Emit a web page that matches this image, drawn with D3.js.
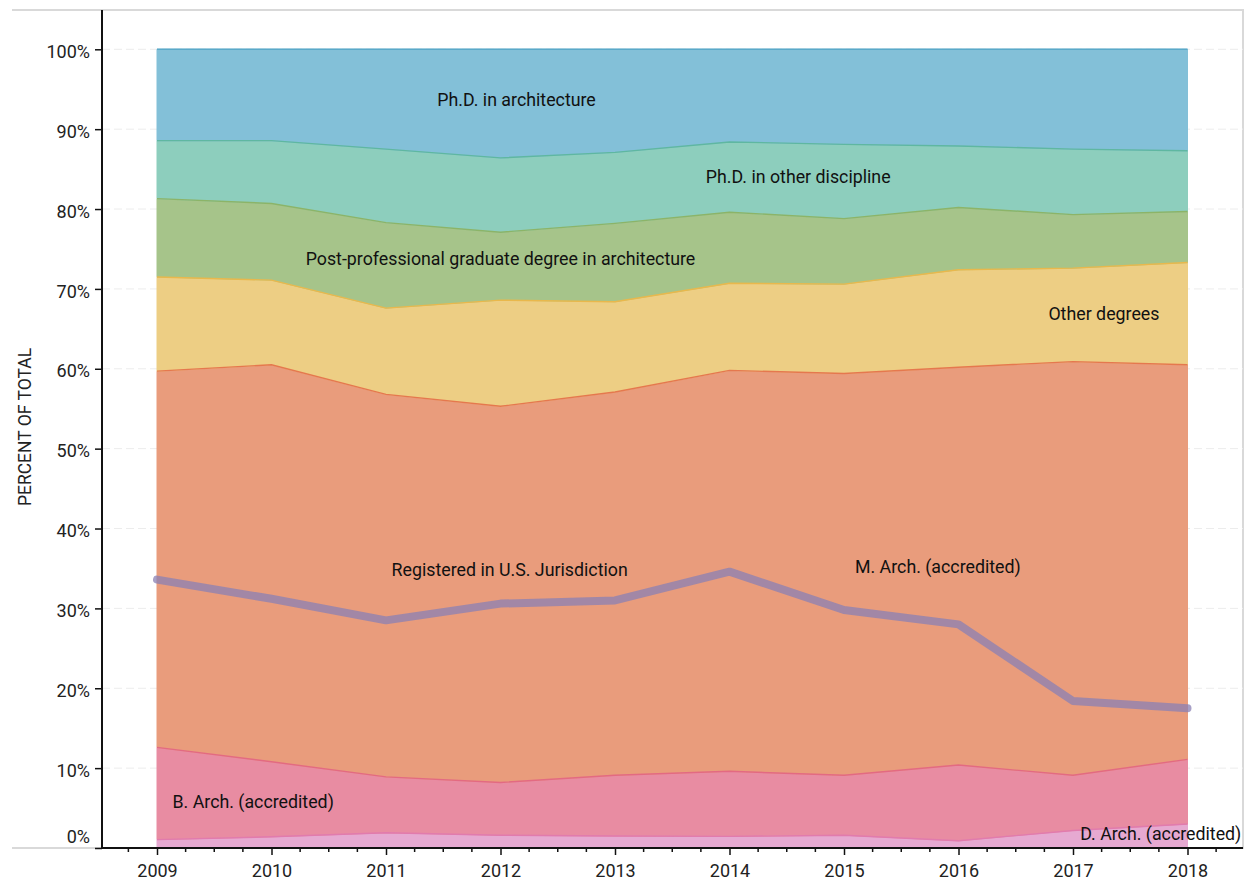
<!DOCTYPE html>
<head>
<meta charset="UTF-8">
<script src="https://d3js.org/d3.v7.min.js"></script>
<style>
  body { margin: 0; background: #fff; }
  text { font-family: Roboto, "Noto Sans", sans-serif; }
</style>
</head>
<body>
<div id="my_dataviz"></div>
<script>

// data, percent of total by year
var years = [2009, 2010, 2011, 2012, 2013, 2014, 2015, 2016, 2017, 2018];
var dArch     = [1.05, 1.4, 1.9, 1.6, 1.5, 1.45, 1.6, 0.9, 2.2, 3.0];
var bArch     = [11.55, 9.4, 7.0, 6.6, 7.6, 8.15, 7.5, 9.5, 6.9, 8.1];
var mArch     = [47.1, 49.7, 47.9, 47.1, 48.0, 50.2, 50.3, 49.8, 51.8, 49.4];
var otherDeg  = [11.8, 10.6, 10.8, 13.3, 11.3, 10.9, 11.2, 12.2, 11.7, 12.8];
var postProf  = [9.8, 9.6, 10.7, 8.5, 9.8, 8.9, 8.2, 7.8, 6.7, 6.4];
var phdOther  = [7.26, 7.86, 9.2, 9.3, 8.9, 8.8, 9.3, 7.7, 8.2, 7.6];
var phdArch   = [11.44, 11.44, 12.5, 13.6, 12.9, 11.6, 11.9, 12.1, 12.5, 12.7];
var registered = [33.6, 31.2, 28.5, 30.6, 31.0, 34.6, 29.8, 28.0, 18.4, 17.5];

var keys = ["dArch", "bArch", "mArch", "otherDeg", "postProf", "phdOther", "phdArch"];
var yTicks = [0, 10, 20, 30, 40, 50, 60, 70, 80, 90, 100];

var fills   = ["#e6a9d1", "#e88ca2", "#e99c7c", "#edce84", "#a6c48a", "#8dcebd", "#83c0d8"];
var strokes = ["#e17bad", "#e36a82", "#e5784e", "#e9b84c", "#8cb468", "#5fb7a1", "#5aa9c9"];

var series = [dArch, bArch, mArch, otherDeg, postProf, phdOther, phdArch];
var table = years.map(function(yr, i) {
  var row = {year: yr};
  keys.forEach(function(k, j) { row[k] = series[j][i]; });
  return row;
});

var W = 1247, H = 882;
var svg = d3.select("#my_dataviz")
  .append("svg")
    .attr("width", W)
    .attr("height", H);

var mLeft = 102, mRight = 1243, mTop = 10, mBottom = 848;

var x = d3.scaleLinear().domain([2009, 2018]).range([157, 1187.5]);
var y = d3.scaleLinear().domain([0, 100]).range([mBottom, 49.3]);

// frame
svg.append("path")
  .attr("d", "M12," + mTop + "H" + mRight + "V" + mBottom + "H12")
  .style("fill", "none")
  .style("stroke", "#d9d9d9")
  .style("stroke-width", 2);

// gridlines
svg.append("g")
  .selectAll("line")
  .data(yTicks.filter(function(d) { return d > 0; }))
  .enter()
  .append("line")
    .attr("x1", mLeft).attr("x2", mRight)
    .attr("y1", function(d) { return y(d); })
    .attr("y2", function(d) { return y(d); })
    .style("stroke", "#ececec")
    .style("stroke-width", 1)
    .style("stroke-dasharray", "8,4");

// stacked areas
var stacked = d3.stack().keys(keys)(table);
var area = d3.area()
  .x(function(d) { return x(d.data.year); })
  .y0(function(d) { return y(d[0]); })
  .y1(function(d) { return y(d[1]); });
var topLine = d3.line()
  .x(function(d) { return x(d.data.year); })
  .y(function(d) { return y(d[1]); });

svg.append("g")
  .selectAll("path")
  .data(stacked)
  .enter()
  .append("path")
    .attr("d", area)
    .style("fill", function(d, i) { return fills[i]; })
    .style("stroke", function(d, i) { return fills[i]; })
    .style("stroke-width", 1);

svg.append("g")
  .selectAll("path")
  .data(stacked)
  .enter()
  .append("path")
    .attr("d", topLine)
    .style("fill", "none")
    .style("stroke", function(d, i) { return strokes[i]; })
    .style("stroke-width", 1.4);

// registered line
var regLine = d3.line()
  .x(function(d, i) { return x(years[i]); })
  .y(function(d) { return y(d); });
svg.append("path")
  .datum(registered)
  .attr("d", regLine)
  .style("fill", "none")
  .style("stroke", "#8a80b4")
  .style("stroke-opacity", 0.75)
  .style("stroke-width", 8)
  .style("stroke-linecap", "round")
  .style("stroke-linejoin", "round");

// labels
var labels = [
  {t: "Ph.D. in architecture", yr: 2012.14, v: 92.9, a: "middle"},
  {t: "Ph.D. in other discipline", yr: 2014.6, v: 83.3, a: "middle"},
  {t: "Post-professional graduate degree in architecture", yr: 2012.0, v: 73.0, a: "middle"},
  {t: "Other degrees", yr: 2017.27, v: 66.1, a: "middle"},
  {t: "Registered in U.S. Jurisdiction", yr: 2012.08, v: 34.0, a: "middle"},
  {t: "M. Arch. (accredited)", yr: 2015.82, v: 34.4, a: "middle"},
  {t: "B. Arch. (accredited)", yr: 2009.84, v: 5.0, a: "middle"},
  {t: "D. Arch. (accredited)", yr: 2018.47, v: 1.0, a: "end"}
];
svg.append("g")
  .selectAll("text")
  .data(labels)
  .enter()
  .append("text")
    .attr("x", function(d) { return x(d.yr); })
    .attr("y", function(d) { return y(d.v); })
    .attr("text-anchor", function(d) { return d.a; })
    .style("font-size", "17.8px")
    .style("fill", "#111")
    .text(function(d) { return d.t; });

// y axis
var yAxis = svg.append("g")
  .attr("transform", "translate(" + mLeft + ",0)")
  .call(d3.axisLeft(y).tickValues(yTicks).tickSize(7).tickPadding(5)
    .tickFormat(function(d) { return d + "%"; }));
yAxis.select(".domain").remove();
yAxis.selectAll(".tick line").style("stroke", "#111").style("stroke-width", 1.5);
yAxis.selectAll(".tick text")
  .style("font-size", "18px")
  .style("font-family", "Roboto, sans-serif")
  .style("fill", "#222")
  .attr("dy", function(d) { return d === 0 ? "-0.3em" : "0.45em"; });

// x axis
var minor = d3.range(2008.75, 2018.3, 0.25).filter(function(d) { return d % 1 !== 0; });
svg.append("g")
  .attr("transform", "translate(0," + mBottom + ")")
  .selectAll("line")
  .data(minor)
  .enter()
  .append("line")
    .attr("x1", function(d) { return x(d); })
    .attr("x2", function(d) { return x(d); })
    .attr("y1", 0).attr("y2", 4)
    .style("stroke", "#111")
    .style("stroke-width", 1.5);

var xAxis = svg.append("g")
  .attr("transform", "translate(0," + mBottom + ")")
  .call(d3.axisBottom(x).tickValues(years).tickSize(7).tickPadding(9)
    .tickFormat(d3.format("d")));
xAxis.select(".domain").remove();
xAxis.selectAll(".tick line").style("stroke", "#111").style("stroke-width", 1.5);
xAxis.selectAll(".tick text")
  .style("font-size", "18px")
  .style("font-family", "Roboto, sans-serif")
  .style("fill", "#222");

// axis lines
svg.append("line")
  .attr("x1", mLeft).attr("x2", mLeft).attr("y1", mTop).attr("y2", mBottom + 1)
  .style("stroke", "#111").style("stroke-width", 2);
svg.append("line")
  .attr("x1", mLeft).attr("x2", mRight).attr("y1", mBottom).attr("y2", mBottom)
  .style("stroke", "#111").style("stroke-width", 2);

// y axis title
svg.append("text")
  .attr("transform", "translate(31," + 427 + ") rotate(-90)")
  .attr("text-anchor", "middle")
  .style("font-size", "17.5px")
  .style("fill", "#222")
  .text("PERCENT OF TOTAL");

</script>
</body>
